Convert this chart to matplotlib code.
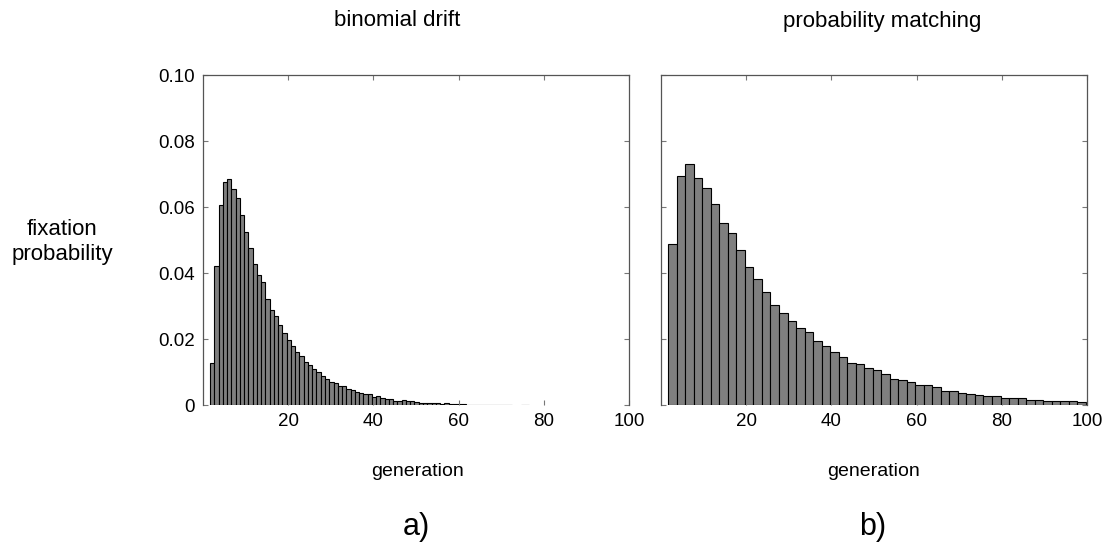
import numpy as np
import matplotlib
matplotlib.use("Agg")
import matplotlib.pyplot as plt

plt.rcParams['font.family'] = ['Liberation Sans', 'DejaVu Sans']

# ---- data ----
drift_start = 1.64   # left edge of first bin (generation)
drift_width = 1.0
drift_vals = [0.0128, 0.0421, 0.0607, 0.0676, 0.0684, 0.0654, 0.0627, 0.0576, 0.0524, 0.0476,
              0.0427, 0.0393, 0.0372, 0.0321, 0.0289, 0.0269, 0.0242, 0.0218, 0.0197, 0.0179,
              0.0161, 0.0147, 0.0131, 0.0121, 0.0108, 0.0099, 0.0088, 0.0078, 0.0069, 0.0066,
              0.0059, 0.0059, 0.0047, 0.0045, 0.0040, 0.0035, 0.0033, 0.0032, 0.0024, 0.0028,
              0.0021, 0.0017, 0.0017, 0.0013, 0.0012, 0.0014, 0.0011, 0.0011, 0.0008, 0.0007,
              0.0007, 0.0007, 0.0006, 0.0005, 0.0004, 0.0006, 0.0004, 0.0003, 0.0003, 0.0002,
              0.0001, 0.0001, 0.0001, 0.0001, 0.0001, 0.0001, 0.0001, 0.0001, 0.0001, 0.0001,
              0.0001, 0.0, 0.0, 0.0001, 0.0001]

match_start = 1.7
match_width = 2.0
match_vals = [0.0488, 0.0694, 0.0730, 0.0688, 0.0658, 0.0609, 0.0552, 0.0521, 0.0471, 0.0417,
              0.0383, 0.0343, 0.0303, 0.0279, 0.0255, 0.0232, 0.0221, 0.0194, 0.0178, 0.0161,
              0.0144, 0.0126, 0.0125, 0.0112, 0.0106, 0.0095, 0.0079, 0.0075, 0.0069, 0.0062,
              0.0061, 0.0054, 0.0042, 0.0041, 0.0036, 0.0033, 0.0029, 0.0027, 0.0027, 0.0020,
              0.0022, 0.0020, 0.0015, 0.0015, 0.0013, 0.0013, 0.0012, 0.0012, 0.0009, 0.0007]

xticks = [20, 40, 60, 80, 100]
yticks = [0, 0.02, 0.04, 0.06, 0.08, 0.10]
ytick_labels = ['0', '0.02', '0.04', '0.06', '0.08', '0.10']
titles = ['binomial drift', 'probability matching']
panel_labels = ['a)', 'b)']

W, H = 1116, 549
fig = plt.figure(figsize=(W / 100, H / 100), dpi=100)

def px_axes(x0, x1, y0, y1):
    return fig.add_axes([x0 / W, 1 - y1 / H, (x1 - x0) / W, (y1 - y0) / H])

ax1 = px_axes(203, 629, 75, 405)
ax2 = px_axes(661, 1087, 75, 405)

bar_color = '#7f7f7f'
spine_color = '#555555'

for ax, start, width, vals in [(ax1, drift_start, drift_width, drift_vals),
                               (ax2, match_start, match_width, match_vals)]:
    v = np.array(vals)
    left = start + width * np.arange(len(v))
    keep = v > 0
    ax.bar(left[keep], v[keep], width=width, align='edge', color=bar_color,
           edgecolor='black', linewidth=0.8, clip_on=True)
    ax.set_xlim(0, 100)
    ax.set_ylim(0, 0.10)
    ax.set_xticks(xticks)
    ax.set_xticklabels([str(t) for t in xticks])
    ax.set_yticks(yticks)
    ax.tick_params(direction='in', top=True, right=True, length=3.5,
                   color='#777777', width=0.8, labelsize=13.5, pad=6)
    for s in ['top', 'right', 'left']:
        ax.spines[s].set_color(spine_color)
        ax.spines[s].set_linewidth(0.9)
    ax.spines['bottom'].set_visible(False)

ax1.set_yticklabels(ytick_labels)
ax2.set_yticklabels([])

# texts
fs_title = 16
fs_gen = 14
fig.text(397 / W, 1 - 21 / H, titles[0], ha='center', va='center', fontsize=fs_title)
fig.text(882 / W, 1 - 21 / H, titles[1], ha='center', va='center', fontsize=fs_title)
fig.text(417 / W, 1 - 472 / H, 'generation', ha='center', va='center', fontsize=fs_gen)
fig.text(873 / W, 1 - 472 / H, 'generation', ha='center', va='center', fontsize=fs_gen)
fig.text(62 / W, 1 - 242 / H, 'fixation\nprobability', ha='center', va='center',
         fontsize=fs_title, linespacing=1.2)
fig.text(416 / W, 1 - 527 / H, panel_labels[0], ha='center', va='center', fontsize=22)
fig.text(873 / W, 1 - 527 / H, panel_labels[1], ha='center', va='center', fontsize=22)

fig.savefig('out.png', dpi=100)
